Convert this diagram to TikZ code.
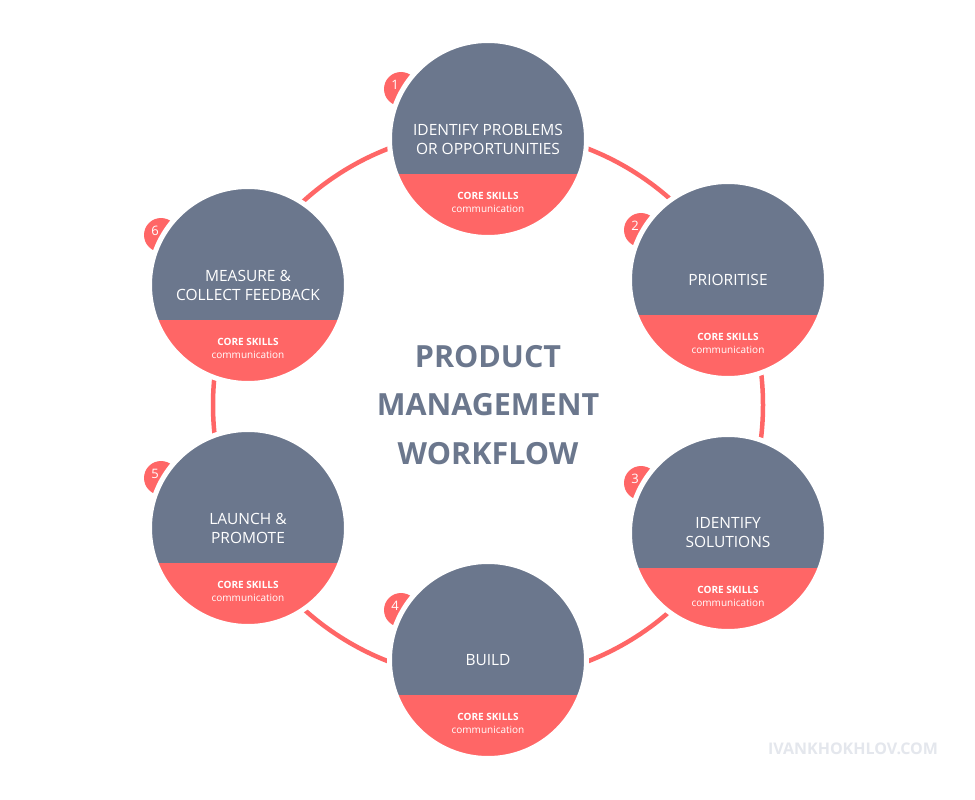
\documentclass[tikz,border=0pt]{standalone}
\usepackage{fontspec}
\setmainfont{Open Sans}
\usepackage{xcolor}
\usepackage{tikz}
\definecolor{slate}{RGB}{107,119,141}
\definecolor{coral}{RGB}{255,102,102}
\definecolor{faint}{RGB}{228,231,237}
\tikzstyle{stage} = [circle, minimum size=197pt, inner sep=0pt, fill=slate, draw=white, line width=5pt, text=white, align=center, font=\fontsize{15.5}{19}\selectfont, path picture={\fill[coral] (path picture bounding box.south west) rectangle ([yshift=-35pt]path picture bounding box.east);}]
\tikzstyle{badge} = [circle, minimum size=34pt, inner sep=0pt, fill=coral]
\tikzstyle{num} = [text=white, font=\fontsize{13}{13}\selectfont, xshift=-6pt, yshift=4pt]
\tikzstyle{skills} = [text=white, align=center, font=\fontsize{10}{13}\selectfont]
\tikzstyle{ring} = [draw=coral, line width=4.5pt]

\begin{document}
\begin{tikzpicture}[x=1pt, y=-1pt]
      \path[use as bounding box, fill=white] (0,0) rectangle (975,800);
      \coordinate (hub) at (488,405);
      \draw [ring] (hub) circle [radius=275pt];
      \node (b1) [badge, label={[num]center:1}] at (401,89) {};
      \node (s1) [stage] at (488,139) {IDENTIFY PROBLEMS\\OR OPPORTUNITIES};
      \node (k1) [skills] at ([yshift=-63pt]s1.center) {\textbf{CORE SKILLS}\\communication};
      \node (b2) [badge, label={[num]center:2}] at (641,230) {};
      \node (s2) [stage] at (728,280) {PRIORITISE};
      \node (k2) [skills] at ([yshift=-63pt]s2.center) {\textbf{CORE SKILLS}\\communication};
      \node (b3) [badge, label={[num]center:3}] at (641,483) {};
      \node (s3) [stage] at (728,533) {IDENTIFY\\SOLUTIONS};
      \node (k3) [skills] at ([yshift=-63pt]s3.center) {\textbf{CORE SKILLS}\\communication};
      \node (b4) [badge, label={[num]center:4}] at (401,610) {};
      \node (s4) [stage] at (488,660) {BUILD};
      \node (k4) [skills] at ([yshift=-63pt]s4.center) {\textbf{CORE SKILLS}\\communication};
      \node (b5) [badge, label={[num]center:5}] at (161,478) {};
      \node (s5) [stage] at (248,528) {LAUNCH \&\\PROMOTE};
      \node (k5) [skills] at ([yshift=-63pt]s5.center) {\textbf{CORE SKILLS}\\communication};
      \node (b6) [badge, label={[num]center:6}] at (161,235) {};
      \node (s6) [stage] at (248,285) {MEASURE \&\\COLLECT FEEDBACK};
      \node (k6) [skills] at ([yshift=-63pt]s6.center) {\textbf{CORE SKILLS}\\communication};
      \node (title) [text=slate, align=center, font=\fontsize{30.5}{48.5}\selectfont\bfseries] at (hub) {PRODUCT\\MANAGEMENT\\WORKFLOW};
      \node (site) [text=faint, font=\fontsize{16}{16}\selectfont\bfseries] at (853,749) {IVANKHOKHLOV.COM};
    \end{tikzpicture}
\end{document}
